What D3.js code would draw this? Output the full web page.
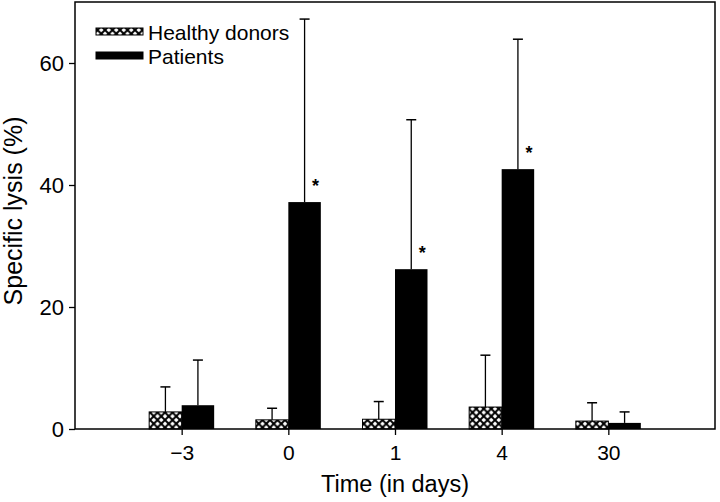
<!DOCTYPE html>
<html><head><meta charset="utf-8">
<script src="https://cdn.jsdelivr.net/npm/d3@7"></script>
<style>body{margin:0;background:#fff}svg{display:block}text{font-family:"Liberation Sans",Arial,sans-serif;fill:#000}</style>
</head><body><svg id="c" width="720" height="502"></svg>
<script>
const categories = ["\u22123", "0", "1", "4", "30"];
const healthy = [2.8, 1.5, 1.6, 3.6, 1.3];
const healthyErr = [6.9, 3.4, 4.5, 12.1, 4.3];
const patients = [3.9, 37.2, 26.2, 42.6, 1.0];
const patientsErr = [11.3, 67.2, 50.7, 63.9, 2.8];
const significant = [false, true, true, true, false];
const yTicks = [0, 20, 40, 60];
const seriesNames = ["Healthy donors", "Patients"];

const svg = d3.select("#c");
const L = 75, R = 715, T = 2, B = 429;
const x = d3.scalePoint().domain(categories).range([L, R]).padding(1);
const y = d3.scaleLinear().domain([0, 70]).range([B, T]);
const bw = 32.5;

const defs = svg.append("defs");
const P = 7.5;
const pat = defs.append("pattern").attr("id", "hatch").attr("patternUnits", "userSpaceOnUse")
  .attr("width", P).attr("height", P);
pat.append("rect").attr("width", P).attr("height", P).attr("fill", "#fff");
pat.append("path").attr("d", `M-1,1 L1,-1 M0,${P} L${P},0 M${P-1},${P+1} L${P+1},${P-1}`).attr("stroke", "#000").attr("stroke-width", 2);
pat.append("path").attr("d", `M-1,${P-1} L1,${P+1} M0,0 L${P},${P} M${P-1},-1 L${P+1},1`).attr("stroke", "#000").attr("stroke-width", 2);

// bars
const g = svg.append("g");
g.selectAll(".h").data(categories).join("rect")
  .attr("x", d => x(d) - bw).attr("y", (d, i) => y(healthy[i]))
  .attr("width", bw).attr("height", (d, i) => B - y(healthy[i]))
  .attr("fill", "url(#hatch)").attr("stroke", "#000").attr("stroke-width", 1);
g.selectAll(".p").data(categories).join("rect")
  .attr("x", d => x(d)).attr("y", (d, i) => y(patients[i]))
  .attr("width", bw).attr("height", (d, i) => B - y(patients[i]))
  .attr("fill", "#000");

// error bars
function err(vals, errs, off) {
  categories.forEach((c, i) => {
    const cx = x(c) + off;
    g.append("line").attr("x1", cx).attr("x2", cx).attr("y1", y(vals[i])).attr("y2", y(errs[i]))
      .attr("stroke", "#000").attr("stroke-width", 1.3);
    g.append("line").attr("x1", cx - 5).attr("x2", cx + 5).attr("y1", y(errs[i])).attr("y2", y(errs[i]))
      .attr("stroke", "#000").attr("stroke-width", 1.5);
  });
}
err(healthy, healthyErr, -bw / 2);
err(patients, patientsErr, bw / 2);

// asterisks
categories.forEach((c, i) => {
  if (!significant[i]) return;
  svg.append("text").attr("x", x(c) + bw / 2 + 11).attr("y", y(patients[i]) - 10)
    .attr("text-anchor", "middle").attr("font-size", 18).attr("font-weight", "bold").text("*");
});

// frame
svg.append("rect").attr("x", L).attr("y", T).attr("width", R - L).attr("height", B - T)
  .attr("fill", "none").attr("stroke", "#000").attr("stroke-width", 1.5);

// axes
const xa = svg.append("g").attr("transform", `translate(0,${B})`)
  .call(d3.axisBottom(x).tickSize(6).tickPadding(10));
xa.select(".domain").remove();
xa.selectAll("text").attr("font-size", 21).attr("font-family", "Liberation Sans, Arial, sans-serif").attr("fill", "#000");
xa.selectAll("line").attr("stroke-width", 1.3);

const ya = svg.append("g").attr("transform", `translate(${L},0)`)
  .call(d3.axisLeft(y).tickValues(yTicks).tickSize(6).tickPadding(5));
ya.select(".domain").remove();
ya.selectAll("text").attr("font-size", 22).attr("font-family", "Liberation Sans, Arial, sans-serif").attr("fill", "#000").attr("dy", "0.36em");
ya.selectAll("line").attr("stroke-width", 1.3);

svg.append("text").attr("x", (L + R) / 2 + 0).attr("y", 492).attr("text-anchor", "middle")
  .attr("font-size", 23.5).text("Time (in days)");
svg.append("text").attr("transform", "translate(22,211) rotate(-90)").attr("text-anchor", "middle")
  .attr("font-size", 25).text("Specific lysis (%)");

// legend
const leg = svg.append("g");
[["url(#hatch)", 40], ["#000", 64]].forEach(([f, by], i) => {
  leg.append("rect").attr("x", 96).attr("y", by - 12).attr("width", 47).attr("height", 7)
    .attr("fill", f).attr("stroke", "#000").attr("stroke-width", 1);
  leg.append("text").attr("x", 148).attr("y", by).attr("font-size", 21).text(seriesNames[i]);
});
</script></body></html>
